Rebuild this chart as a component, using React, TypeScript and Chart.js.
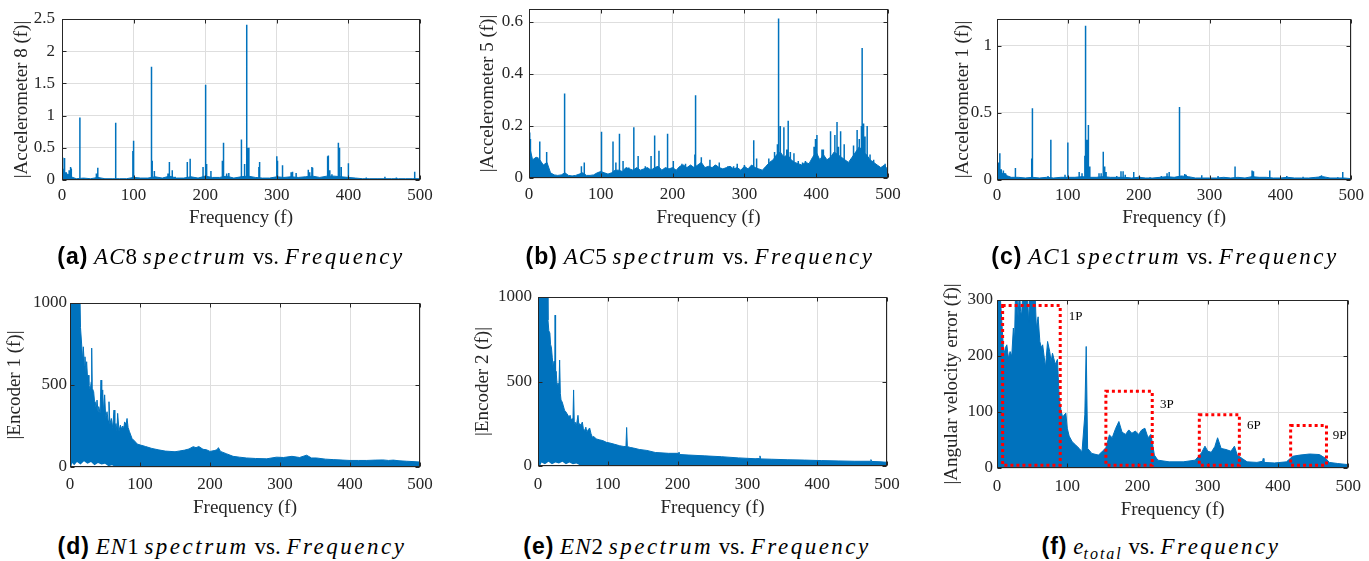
import React, { useEffect, useRef } from 'react';
import { Chart, registerables } from 'chart.js';

Chart.register(...registerables);

const BLUE = '#0072BD';
const SERIF = '"Liberation Serif", "Times New Roman", serif';
const SANS = '"Liberation Sans", Arial, sans-serif';
const AXIS_COLOR = '#262626';
const GRID_COLOR = '#dedede';

// ---------- (a) Accelerometer 8 ----------
const A_FLOOR_F = [0, 5, 10, 15, 20, 30, 40, 50, 60, 70, 80, 90, 100, 110, 120, 130, 140, 150, 160, 170, 180, 190, 200, 210, 220, 230, 240, 250, 260, 270, 280, 290, 300, 310, 320, 330, 340, 350, 360, 370, 380, 390, 400, 410, 420, 430, 440, 450, 460, 470, 480, 490, 500];
const A_FLOOR_V = [0.2, 0.1, 0.08, 0.04, 0.02, 0.03, 0.02, 0.04, 0.02, 0.02, 0.02, 0.02, 0.04, 0.03, 0.03, 0.05, 0.03, 0.06, 0.03, 0.03, 0.05, 0.03, 0.06, 0.04, 0.04, 0.06, 0.03, 0.05, 0.06, 0.04, 0.03, 0.03, 0.05, 0.04, 0.05, 0.04, 0.05, 0.06, 0.04, 0.06, 0.06, 0.05, 0.04, 0.03, 0.02, 0.02, 0.02, 0.02, 0.02, 0.02, 0.02, 0.02, 0.02];
const A_SPIKE_F = [1, 3, 4, 6, 10, 12, 13, 25, 48, 50, 75, 99, 100, 125, 126, 129, 148, 150, 154, 158, 175, 179, 197, 200, 201, 202, 208, 224, 225, 226, 230, 233, 250, 251, 255, 258, 259, 261, 275, 276, 300, 301, 308, 320, 322, 327, 344, 346, 349, 350, 371, 372, 374, 377, 386, 387, 388, 390, 400, 425, 451, 467, 492, 493];
const A_SPIKE_V = [0.35, 0.34, 0.3, 0.12, 0.15, 0.2, 0.18, 0.97, 0.1, 0.19, 0.89, 0.45, 0.61, 1.76, 0.3, 0.14, 0.1, 0.28, 0.15, 0.05, 0.28, 0.33, 0.2, 1.48, 0.78, 0.25, 0.14, 0.3, 0.58, 0.3, 0.1, 0.11, 0.63, 0.2, 0.25, 2.41, 0.5, 0.5, 0.2, 0.28, 0.37, 0.3, 0.23, 0.12, 0.13, 0.11, 0.16, 0.12, 0.2, 0.19, 0.37, 0.38, 0.15, 0.09, 0.58, 0.5, 0.35, 0.2, 0.26, 0.04, 0.05, 0.04, 0.13, 0.12];

// ---------- (b) Accelerometer 5 ----------
const B_FLOOR_F = [0, 5, 10, 15, 20, 25, 30, 35, 40, 45, 50, 55, 60, 65, 70, 75, 80, 85, 90, 95, 100, 105, 110, 115, 120, 125, 130, 135, 140, 145, 150, 155, 160, 165, 170, 175, 180, 185, 190, 195, 200, 205, 210, 215, 220, 225, 230, 235, 240, 245, 250, 255, 260, 265, 270, 275, 280, 285, 290, 295, 300, 305, 310, 315, 320, 325, 330, 335, 340, 345, 350, 355, 360, 365, 370, 375, 380, 385, 390, 395, 400, 405, 410, 415, 420, 425, 430, 435, 440, 445, 450, 455, 460, 465, 470, 475, 480, 485, 490, 495, 500];
const B_FLOOR_V = [
  0.13, 0.07, 0.08, 0.07, 0.05, 0.06, 0.02, 0.012, 0.01, 0.012,
  0.02, 0.01, 0.008, 0.01, 0.015, 0.02, 0.01, 0.01, 0.012, 0.02,
  0.025, 0.02, 0.015, 0.02, 0.03, 0.03, 0.025, 0.04, 0.035, 0.03,
  0.04, 0.03, 0.035, 0.04, 0.03, 0.04, 0.045, 0.03, 0.04, 0.035,
  0.04, 0.03, 0.045, 0.05, 0.04, 0.05, 0.04, 0.05, 0.06, 0.04,
  0.045, 0.04, 0.05, 0.04, 0.035, 0.04, 0.045, 0.035, 0.04, 0.03,
  0.045, 0.035, 0.05, 0.04, 0.035, 0.03, 0.045, 0.06, 0.07, 0.09,
  0.1, 0.08, 0.09, 0.07, 0.06, 0.055, 0.05, 0.06, 0.055, 0.08,
  0.1, 0.07, 0.09, 0.07, 0.08, 0.1, 0.09, 0.08, 0.07, 0.06,
  0.08, 0.1, 0.12, 0.1, 0.09, 0.07, 0.06, 0.05, 0.04, 0.05,
  0.03,
];
const B_SPIKE_F = [1, 2, 8, 12, 15, 24, 25, 49, 50, 73, 77, 101, 117, 121, 126, 131, 139, 146, 152, 162, 170, 175, 181, 193, 201, 213, 218, 231, 232, 240, 252, 259, 265, 277, 285, 290, 300, 313, 317, 334, 342, 346, 347, 348, 350, 355, 359, 361, 364, 369, 375, 381, 385, 397, 399, 401, 408, 410, 420, 426, 429, 431, 434, 439, 452, 457, 460, 463, 464, 466, 468, 471, 475, 480, 496];
const B_SPIKE_V = [0.175, 0.15, 0.075, 0.08, 0.14, 0.1, 0.08, 0.245, 0.325, 0.045, 0.06, 0.178, 0.14, 0.06, 0.17, 0.065, 0.04, 0.195, 0.085, 0.045, 0.085, 0.163, 0.105, 0.17, 0.065, 0.055, 0.055, 0.09, 0.318, 0.08, 0.07, 0.05, 0.06, 0.045, 0.045, 0.055, 0.05, 0.145, 0.075, 0.075, 0.1, 0.13, 0.45, 0.613, 0.2, 0.195, 0.11, 0.22, 0.1, 0.095, 0.065, 0.06, 0.065, 0.12, 0.15, 0.165, 0.11, 0.11, 0.18, 0.165, 0.215, 0.12, 0.18, 0.13, 0.125, 0.185, 0.15, 0.2, 0.5, 0.21, 0.16, 0.2, 0.09, 0.07, 0.055];

// ---------- (c) Accelerometer 1 ----------
const C_FLOOR_F = [0, 5, 10, 15, 20, 30, 40, 50, 60, 70, 80, 90, 100, 110, 120, 130, 140, 150, 160, 170, 180, 190, 200, 210, 220, 230, 240, 250, 260, 270, 280, 290, 300, 310, 320, 330, 340, 350, 360, 370, 380, 390, 400, 410, 420, 430, 440, 450, 460, 470, 480, 490, 500];
const C_FLOOR_V = [0.12, 0.05, 0.05, 0.03, 0.02, 0.02, 0.015, 0.02, 0.015, 0.02, 0.015, 0.02, 0.02, 0.02, 0.025, 0.02, 0.02, 0.025, 0.02, 0.02, 0.02, 0.015, 0.02, 0.015, 0.015, 0.02, 0.025, 0.02, 0.03, 0.025, 0.015, 0.015, 0.015, 0.015, 0.02, 0.015, 0.02, 0.015, 0.025, 0.02, 0.02, 0.015, 0.015, 0.02, 0.015, 0.015, 0.015, 0.02, 0.025, 0.015, 0.015, 0.015, 0.01];
const C_SPIKE_F = [2, 4, 6, 9, 12, 26, 49, 50, 72, 76, 96, 100, 116, 120, 124, 125, 127, 129, 131, 144, 147, 150, 152, 154, 169, 175, 178, 181, 193, 201, 216, 232, 240, 243, 257, 258, 265, 267, 289, 312, 336, 360, 362, 385, 409, 432, 456, 458, 481, 488];
const C_SPIKE_V = [0.13, 0.2, 0.08, 0.07, 0.05, 0.09, 0.16, 0.535, 0.03, 0.3, 0.04, 0.28, 0.06, 0.05, 0.18, 1.15, 0.3, 0.41, 0.1, 0.05, 0.05, 0.21, 0.1, 0.06, 0.03, 0.065, 0.065, 0.04, 0.06, 0.03, 0.02, 0.03, 0.05, 0.06, 0.25, 0.545, 0.045, 0.04, 0.035, 0.03, 0.1, 0.07, 0.065, 0.07, 0.03, 0.025, 0.03, 0.035, 0.02, 0.06];

// ---------- (d) Encoder 1: upper / lower envelope of the dense spectrum ----------
const D_ENV_F = [
  0, 14, 15, 16.7, 18, 19, 20.5, 21.4, 22.6, 23.8,
  25.2, 26, 27, 29, 30.3, 31, 31.8, 33.8, 35, 36,
  37.5, 38.6, 40, 41, 43, 44.3, 45.3, 46.7, 48, 49.5,
  51, 52.9, 54.5, 55.7, 57, 59, 61, 62.9, 64, 65.7,
  67, 68.1, 70, 72, 74, 75.2, 77, 78, 80, 81.5,
  83, 85, 88.6, 93.3, 96, 100.5, 108, 117, 126, 136,
  150, 157, 164, 170, 176, 180, 184, 190, 195, 200,
  206, 210, 212, 215, 224, 233, 242, 252, 265, 281,
  295, 305, 317, 328, 338, 345, 352, 365, 376, 390,
  400, 412, 424, 436, 447, 455, 462, 470, 481, 490,
  500,
];
const D_ENV_V = [
  1100, 1100, 850, 744, 650, 733, 620, 672, 580, 642,
  530, 560, 500, 470, 520, 725, 480, 459, 400, 398,
  350, 408, 340, 368, 330, 530, 360, 470, 330, 440,
  300, 337, 280, 398, 260, 296, 240, 347, 230, 265,
  220, 327, 220, 255, 230, 250, 240, 275, 260, 296,
  240, 215, 174, 154, 140, 134, 125, 113, 105, 97,
  93, 98, 103, 110, 124, 118, 125, 108, 105, 95,
  100, 105, 118, 95, 80, 65, 60, 55, 52, 50,
  60, 58, 65, 58, 72, 55, 55, 48, 45, 42,
  40, 40, 40, 42, 43, 40, 42, 38, 35, 33,
  30,
];
const D_LOW_F = [0, 2, 3, 6, 10, 15, 20, 25, 30, 35, 40, 45, 50, 55, 60, 65, 500];
const D_LOW_V = [0, 0, 25, 10, 30, 15, 35, 20, 30, 10, 25, 15, 20, 5, 10, 0, 0];

// ---------- (e) Encoder 2 ----------
const E_ENV_F = [
  0, 13, 14.3, 15.5, 17, 18, 19.3, 20.5, 21.7, 23,
  24, 24.5, 25.2, 26, 27.3, 28.6, 30, 31, 32, 33,
  34.5, 36, 38, 40, 41.5, 43, 44.5, 46, 47.5, 49,
  50, 51, 52, 53, 55, 57.3, 58.5, 60, 61.5, 63.5,
  65, 67, 68.5, 70, 72, 74, 76, 78, 80, 83.5,
  88, 93, 98, 103, 110, 117, 122, 126, 127, 128,
  132, 137, 145, 156, 168, 187, 201, 202, 203, 215,
  239, 263, 287, 311, 317, 318, 319, 335, 358, 382,
  406, 430, 454, 476, 477, 478, 490, 500,
];
const E_ENV_V = [
  1100, 1100, 864, 800, 787, 720, 698, 640, 580, 620,
  520, 893, 540, 560, 480, 491, 470, 627, 430, 390,
  380, 360, 330, 320, 310, 300, 290, 300, 270, 280,
  260, 450, 250, 260, 240, 300, 245, 250, 240, 260,
  220, 210, 230, 200, 215, 225, 190, 170, 175, 160,
  155, 150, 140, 136, 128, 120, 116, 115, 228, 115,
  110, 106, 98, 92, 80, 75, 75, 82, 68, 65,
  60, 55, 48, 43, 44, 60, 42, 40, 37, 35,
  32, 30, 28, 28, 38, 27, 25, 22,
];
const E_LOW_F = [0, 3, 5, 10, 15, 20, 25, 30, 35, 40, 45, 50, 55, 60, 65, 500];
const E_LOW_V = [0, 0, 20, 10, 25, 10, 20, 15, 25, 10, 20, 10, 15, 5, 0, 0];

// ---------- (f) Angular velocity error ----------
const F_ENV_F = [
  0, 3, 5, 7.4, 9.7, 12, 14, 16.3, 18.6, 21,
  23.3, 25, 26.5, 28, 30, 32, 33.5, 35, 37, 39,
  41, 43, 45, 47, 49, 51, 54, 56, 58.5, 61,
  63, 65, 67, 69, 72, 75, 77, 79, 81, 83,
  86, 88.6, 91, 93.5, 95.7, 98, 100, 102.7, 107, 112,
  117, 121, 125, 127, 129, 135, 144.5, 150, 155, 160,
  164, 169, 173.5, 178, 183, 187.6, 192, 197, 201.6, 206,
  210.5, 215, 219, 222, 224, 229, 245, 265, 282, 287,
  291, 296, 300, 305, 310, 314, 319, 326, 333, 338,
  342, 349, 356, 370, 378, 379, 380, 395, 412, 421,
  431, 445, 459, 468, 473, 485, 500,
];
const F_ENV_V = [
  320, 320, 300, 250, 202, 215, 220, 196, 208, 200,
  250, 230, 320, 320, 270, 320, 280, 273, 320, 300,
  320, 320, 260, 320, 320, 300, 320, 250, 270, 226,
  215, 220, 200, 180, 226, 208, 190, 205, 195, 185,
  194, 125, 104, 90, 95, 98, 71, 57, 47, 41,
  35, 29, 95, 217, 35, 26, 23, 30, 36, 59,
  54, 71, 83, 64, 60, 68, 62, 66, 60, 68,
  71, 54, 60, 39, 23, 14, 11, 11, 14, 21,
  27, 39, 30, 28, 38, 54, 35, 33, 30, 39,
  23, 17, 11, 10, 12, 17, 10, 9, 11, 21,
  23, 25, 24, 17, 10, 8, 6,
];
const F_BOX_X0 = [8, 155, 288, 418];
const F_BOX_X1 = [90, 221, 345, 469];
const F_BOX_Y0 = [5, 5, 5, 5];
const F_BOX_Y1 = [290, 137, 95, 76];
const F_BOX_LABEL = ['1P', '3P', '6P', '9P'];
const F_LABEL_X = [102, 232, 356, 478];
const F_LABEL_Y = [270, 114, 76, 58];

// ---------- helpers ----------
const toPoints = (fs: number[], vs: number[]) => fs.map((f, i) => ({ x: f, y: vs[i] }));
const toSpikes = (fs: number[], vs: number[]) =>
  fs.flatMap((f, i) => [
    { x: f, y: 0 },
    { x: f, y: vs[i] },
    { x: f, y: 0 },
  ]);

const floorSet = (fs: number[], vs: number[]) => ({
  data: toPoints(fs, vs),
  borderColor: BLUE,
  backgroundColor: BLUE,
  borderWidth: 1,
  fill: 'origin',
  pointRadius: 0,
  tension: 0,
});
const lowSet = (fs: number[], vs: number[]) => ({
  data: toPoints(fs, vs),
  borderColor: 'rgba(255,255,255,0)',
  backgroundColor: '#ffffff',
  borderWidth: 1,
  fill: 'origin',
  pointRadius: 0,
  tension: 0,
});
const spikeSet = (fs: number[], vs: number[]) => ({
  data: toSpikes(fs, vs),
  borderColor: BLUE,
  borderWidth: 1.5,
  fill: false,
  pointRadius: 0,
  tension: 0,
});

const boxPlugin = {
  id: 'matlabBox',
  afterDatasetsDraw(chart: any) {
    const { ctx, chartArea, scales } = chart;
    const l = Math.round(chartArea.left) + 0.5;
    const r = Math.round(chartArea.right) - 0.5;
    const t = Math.round(chartArea.top) + 0.5;
    const b = Math.round(chartArea.bottom) - 0.5;
    ctx.save();
    ctx.strokeStyle = AXIS_COLOR;
    ctx.lineWidth = 1;
    ctx.strokeRect(l, t, r - l, b - t);
    const tl = 4;
    ctx.beginPath();
    scales.x.ticks.forEach((tk: any) => {
      const x = Math.round(scales.x.getPixelForValue(tk.value)) + 0.5;
      ctx.moveTo(x, b);
      ctx.lineTo(x, b - tl);
      ctx.moveTo(x, t);
      ctx.lineTo(x, t + tl);
    });
    scales.y.ticks.forEach((tk: any) => {
      const y = Math.round(scales.y.getPixelForValue(tk.value)) + 0.5;
      ctx.moveTo(l, y);
      ctx.lineTo(l + tl, y);
      ctx.moveTo(r, y);
      ctx.lineTo(r - tl, y);
    });
    ctx.stroke();
    ctx.restore();
  },
};

const redBoxPlugin = {
  id: 'redBoxes',
  afterDatasetsDraw(chart: any) {
    const opts = chart.options.plugins.redBoxes;
    if (!opts || !opts.enabled) return;
    const { ctx, scales } = chart;
    const xs = scales.x;
    const ys = scales.y;
    ctx.save();
    ctx.strokeStyle = '#ff0000';
    ctx.lineWidth = 3;
    ctx.setLineDash([3, 3]);
    F_BOX_X0.forEach((x0, i) => {
      const px0 = xs.getPixelForValue(x0);
      const px1 = xs.getPixelForValue(F_BOX_X1[i]);
      const py0 = ys.getPixelForValue(F_BOX_Y0[i]);
      const py1 = ys.getPixelForValue(F_BOX_Y1[i]);
      ctx.strokeRect(px0, py1, px1 - px0, py0 - py1);
    });
    ctx.setLineDash([]);
    ctx.fillStyle = '#000';
    ctx.font = `13px ${SERIF}`;
    ctx.textAlign = 'left';
    ctx.textBaseline = 'middle';
    F_BOX_LABEL.forEach((lab, i) => {
      ctx.fillText(lab, xs.getPixelForValue(F_LABEL_X[i]), ys.getPixelForValue(F_LABEL_Y[i]));
    });
    ctx.restore();
  },
};

type PanelCfg = {
  id: string;
  colLeft: number;
  L: number;
  T: number;
  R: number;
  B: number;
  yTitleX: number;
  xTitleY: number;
  yMax: number;
  yStep: number;
  yLabel: string;
  yTickPad: number;
  xTickPad: number;
  datasets: any[];
  redBoxes?: boolean;
};

const PAD_TOP = 30;
const X_AXIS_H = 62;
const TITLE_SIZE = 19;
const TICK_SIZE = 17;

const PANELS: PanelCfg[] = [
  {
    id: 'a', colLeft: 0, L: 62, T: 19, R: 420, B: 180, yTitleX: 22, xTitleY: 218,
    yMax: 2.5, yStep: 0.5, yLabel: '|Accelerometer 8 (f)|', yTickPad: 7, xTickPad: 5,
    datasets: [floorSet(A_FLOOR_F, A_FLOOR_V), spikeSet(A_SPIKE_F, A_SPIKE_V)],
  },
  {
    id: 'b', colLeft: 455, L: 529, T: 9, R: 888, B: 178, yTitleX: 488, xTitleY: 218,
    yMax: 0.65, yStep: 0.2, yLabel: '|Accelerometer 5 (f)|', yTickPad: 6, xTickPad: 6,
    datasets: [floorSet(B_FLOOR_F, B_FLOOR_V), spikeSet(B_SPIKE_F, B_SPIKE_V)],
  },
  {
    id: 'c', colLeft: 915, L: 997, T: 19, R: 1355, B: 180, yTitleX: 963, xTitleY: 218,
    yMax: 1.2, yStep: 0.5, yLabel: '|Accelerometer 1 (f)|', yTickPad: 5, xTickPad: 5,
    datasets: [floorSet(C_FLOOR_F, C_FLOOR_V), spikeSet(C_SPIKE_F, C_SPIKE_V)],
  },
  {
    id: 'd', colLeft: 0, L: 70, T: 303, R: 420, B: 467, yTitleX: 15, xTitleY: 508,
    yMax: 1000, yStep: 500, yLabel: '|Encoder 1 (f)|', yTickPad: 3, xTickPad: 7,
    datasets: [lowSet(D_LOW_F, D_LOW_V), floorSet(D_ENV_F, D_ENV_V)],
  },
  {
    id: 'e', colLeft: 455, L: 538, T: 297, R: 887, B: 466, yTitleX: 483, xTitleY: 508,
    yMax: 1000, yStep: 500, yLabel: '|Encoder 2 (f)|', yTickPad: 6, xTickPad: 8,
    datasets: [lowSet(E_LOW_F, E_LOW_V), floorSet(E_ENV_F, E_ENV_V)],
  },
  {
    id: 'f', colLeft: 915, L: 997, T: 300, R: 1354, B: 468, yTitleX: 952, xTitleY: 510,
    yMax: 300, yStep: 100, yLabel: '|Angular velocity error (f)|', yTickPad: 4, xTickPad: 8,
    datasets: [floorSet(F_ENV_F, F_ENV_V)], redBoxes: true,
  },
];

const fmt = (v: any) => String(Number(Number(v).toFixed(3)));

function geometry(p: PanelCfg) {
  const cw = Math.min(p.R + 30, 1369) - p.colLeft;
  const ch = PAD_TOP + (p.B - p.T) + X_AXIS_H;
  const padRight = cw - (p.R - p.colLeft);
  const left = p.colLeft;
  const top = p.T - PAD_TOP;
  return { cw, ch, padRight, left, top };
}

function Panel({ p }: { p: PanelCfg }) {
  const ref = useRef<HTMLCanvasElement | null>(null);
  const g = geometry(p);
  useEffect(() => {
    if (!ref.current) return;
    const half = (TITLE_SIZE * 1.2) / 2;
    const yTitlePad = p.yTitleX - p.colLeft - half;
    const xTitlePad = p.B + X_AXIS_H - p.xTitleY - half;
    const tickFont = { family: SERIF, size: TICK_SIZE };
    const titleFont = { family: SERIF, size: TITLE_SIZE };
    const chart = new Chart(ref.current, {
      type: 'line',
      data: { datasets: p.datasets as any },
      options: {
        responsive: false,
        animation: false,
        events: [],
        layout: { padding: { left: 0, right: g.padRight, top: PAD_TOP, bottom: 0 } },
        plugins: {
          legend: { display: false },
          tooltip: { enabled: false },
          redBoxes: { enabled: !!p.redBoxes },
        } as any,
        elements: { point: { radius: 0 } },
        scales: {
          x: {
            type: 'linear',
            min: 0,
            max: 500,
            ticks: { stepSize: 100, font: tickFont, color: AXIS_COLOR, padding: p.xTickPad, maxRotation: 0, autoSkip: false, includeBounds: false, callback: fmt } as any,
            grid: { color: GRID_COLOR, drawTicks: false, lineWidth: 1 },
            border: { display: false },
            title: { display: true, text: 'Frequency (f)', font: titleFont, color: AXIS_COLOR, padding: { top: 0, bottom: xTitlePad } },
            afterFit: (s: any) => { s.height = X_AXIS_H; },
          },
          y: {
            type: 'linear',
            min: 0,
            max: p.yMax,
            ticks: { stepSize: p.yStep, font: tickFont, color: AXIS_COLOR, padding: p.yTickPad, includeBounds: false, callback: fmt } as any,
            grid: { color: GRID_COLOR, drawTicks: false, lineWidth: 1 },
            border: { display: false },
            title: { display: true, text: p.yLabel, font: titleFont, color: AXIS_COLOR, padding: { top: yTitlePad, bottom: 0 } },
            afterFit: (s: any) => { s.width = p.L - p.colLeft; },
          },
        },
      },
      plugins: [boxPlugin, redBoxPlugin],
    });
    return () => chart.destroy();
  }, []);
  return (
    <canvas
      ref={ref}
      width={g.cw}
      height={g.ch}
      style={{ position: 'absolute', left: g.left, top: g.top, width: g.cw, height: g.ch }}
    />
  );
}

const CAP_SIZE = 23;
const CAP_LINE = 30;

function Caption({ cx, cy, children }: { cx: number; cy: number; children: React.ReactNode }) {
  return (
    <div
      style={{
        position: 'absolute',
        left: cx - 250,
        top: cy - CAP_LINE / 2,
        width: 500,
        height: CAP_LINE,
        lineHeight: `${CAP_LINE}px`,
        textAlign: 'center',
        fontFamily: SERIF,
        fontSize: CAP_SIZE,
        color: '#000',
        whiteSpace: 'nowrap',
      }}
    >
      {children}
    </div>
  );
}

const Tag = ({ t }: { t: string }) => (
  <span style={{ fontFamily: SANS, fontWeight: 'bold', letterSpacing: 1 }}>({t})</span>
);
const MI = ({ t, sp = 2.5 }: { t: string; sp?: number }) => (
  <i style={{ fontFamily: SERIF, fontStyle: 'italic', letterSpacing: sp }}>{t}</i>
);

function SpecCaption({ tag, sym, num }: { tag: string; sym: string; num: string }) {
  return (
    <>
      <Tag t={tag} /> <MI t={sym} sp={1} />
      {num} <MI t="spectrum" /> vs. <MI t="Frequency" />
    </>
  );
}

export default function App() {
  return (
    <div
      style={{
        position: 'absolute',
        left: 0,
        top: 0,
        width: 1369,
        height: 561,
        overflow: 'hidden',
        background: '#fff',
      }}
    >
      {PANELS.map((p) => (
        <Panel key={p.id} p={p} />
      ))}
      <Caption cx={231} cy={256}>
        <SpecCaption tag="a" sym="AC" num="8" />
      </Caption>
      <Caption cx={700} cy={256}>
        <SpecCaption tag="b" sym="AC" num="5" />
      </Caption>
      <Caption cx={1165} cy={256}>
        <SpecCaption tag="c" sym="AC" num="1" />
      </Caption>
      <Caption cx={232} cy={546}>
        <SpecCaption tag="d" sym="EN" num="1" />
      </Caption>
      <Caption cx={697} cy={546}>
        <SpecCaption tag="e" sym="EN" num="2" />
      </Caption>
      <Caption cx={1161} cy={546}>
        <Tag t="f" /> <MI t="e" sp={0} />
        <i style={{ fontFamily: SERIF, fontSize: 16, letterSpacing: 2, position: 'relative', top: 5 }}>total</i> vs.{' '}
        <MI t="Frequency" />
      </Caption>
    </div>
  );
}
